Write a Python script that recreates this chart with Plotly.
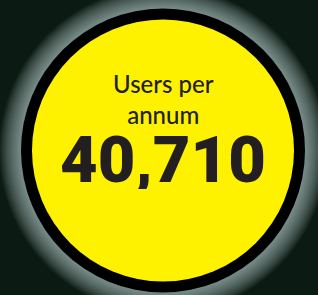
import plotly.graph_objects as go

label_lines = ["Users per", "annum"]
value = 40710

BG = "#0b1a12"
YELLOW = "#fff200"
INK = "#231f20"

cx, cy = 163, 150.5
r_outer = 142
ring = 11

fig = go.Figure()
fig.add_trace(go.Scatter(x=[cx], y=[cy], mode="markers", marker=dict(size=1, opacity=0), hoverinfo="skip", showlegend=False))

shapes = []
n = 22
for i in range(n, 0, -1):
    r = r_outer + i * 1.0
    shapes.append(dict(type="circle", xref="x", yref="y", x0=cx - r, x1=cx + r, y0=cy - r, y1=cy + r,
                       fillcolor="rgba(215,228,222,0.04)", line=dict(width=0), layer="below"))
shapes.append(dict(type="circle", xref="x", yref="y", x0=cx - r_outer, x1=cx + r_outer, y0=cy - r_outer, y1=cy + r_outer,
                   fillcolor="#000000", line=dict(width=0), layer="below"))
ri = r_outer - ring
shapes.append(dict(type="circle", xref="x", yref="y", x0=cx - ri, x1=cx + ri, y0=cy - ri, y1=cy + ri,
                   fillcolor=YELLOW, line=dict(width=0), layer="below"))

annotations = [
    dict(x=cx, y=99, xref="x", yref="y", text="<br>".join(label_lines), showarrow=False,
         font=dict(family="Lato, Noto Sans", size=24, color=INK, weight=500), xanchor="center", yanchor="middle"),
    dict(x=cx, y=160, xref="x", yref="y", text=f"{value:,}", showarrow=False, height=58,
         font=dict(family="Roboto", size=65, color=INK, weight=900),
         xanchor="center", yanchor="middle", valign="middle"),
]

fig.update_layout(
    width=318, height=295,
    margin=dict(l=0, r=0, t=0, b=0),
    paper_bgcolor=BG, plot_bgcolor=BG,
    xaxis=dict(range=[0, 318], visible=False, fixedrange=True),
    yaxis=dict(range=[295, 0], visible=False, fixedrange=True),
    shapes=shapes, annotations=annotations,
    showlegend=False,
)
fig.write_html("out.html", config={"displayModeBar": False, "staticPlot": True},
               post_script="document.body.style.margin='0';document.body.style.background='#0b1a12';")
